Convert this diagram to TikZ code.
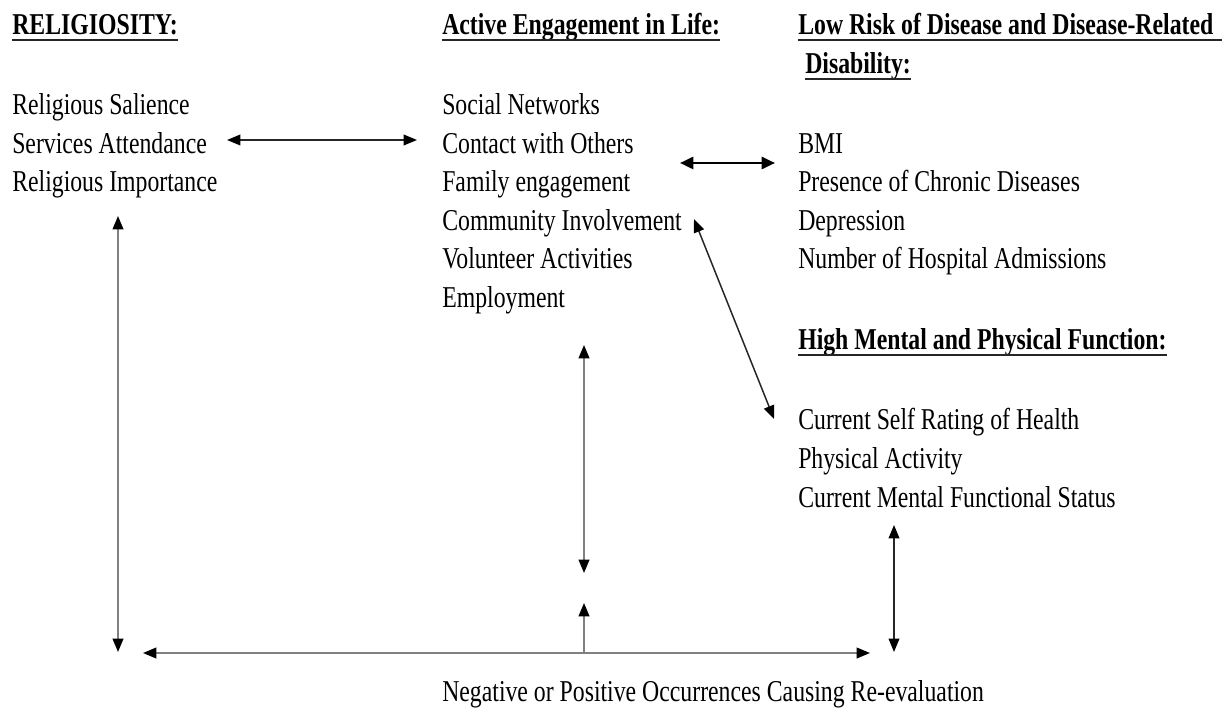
\documentclass[tikz,border=0pt]{standalone}
\usepackage{fontspec}
\setmainfont{Liberation Serif}[FakeStretch=0.785]
\usetikzlibrary{arrows.meta}
\tikzset{
  txt/.style={anchor=base west, inner sep=0pt, font=\fontsize{22.7}{27}\selectfont},
  head/.style={txt, font=\fontsize{22.7}{27}\selectfont\bfseries},
  uline/.style={line width=1.3pt, black!85},
  tipk/.tip={Triangle[length=10pt,width=8pt,color=black,fill=black]},
  tipb/.tip={Triangle[length=10pt,width=9pt,color=black,fill=black]},
  conn/.style={line width=1.1pt, black!85, tipk-tipk},
  connthick/.style={line width=2pt, black, tipb-tipb},
  conngray/.style={line width=1.4pt, black!50, tipk-tipk},
}
\begin{document}
\begin{tikzpicture}[x=0.75pt, y=-0.75pt]
\useasboundingbox (0,0) rectangle (1230,712);
% headings
\node[head] (h1) at (12,35) {RELIGIOSITY:};
\node[head] (h2) at (442,35) {Active Engagement in Life:};
\node[head] (h3) at (798,35) {Low Risk of Disease and Disease-Related};
\node[head] (h3b) at (805,74) {Disability:};
\node[head] (h4) at (798,350) {High Mental and Physical Function:};
\foreach \n in {h1,h2,h3b,h4}{
  \draw[uline] ([yshift=-4pt]\n.base west) -- ([yshift=-4pt]\n.base east);
}
\draw[uline] ([yshift=-4pt]h3.base west) -- ([xshift=6pt,yshift=-4pt]h3.base east);
% column 1
\node[txt] (r1) at (12,115) {Religious Salience};
\node[txt] (r2) at (12,153.5) {Services Attendance};
\node[txt] (r3) at (12,192) {Religious Importance};
% column 2
\node[txt] (e1) at (442,115) {Social Networks};
\node[txt] (e2) at (442,153.5) {Contact with Others};
\node[txt] (e3) at (442,192) {Family engagement};
\node[txt] (e4) at (442,230.5) {Community Involvement};
\node[txt] (e5) at (442,269) {Volunteer Activities};
\node[txt] (e6) at (442,308) {Employment};
% column 3
\node[txt] (d1) at (798,153.5) {BMI};
\node[txt] (d2) at (798,192) {Presence of Chronic Diseases};
\node[txt] (d3) at (798,230.5) {Depression};
\node[txt] (d4) at (798,269) {Number of Hospital Admissions};
\node[txt] (f1) at (798,429) {Current Self Rating of Health};
\node[txt] (f2) at (798,468) {Physical Activity};
\node[txt] (f3) at (798,507) {Current Mental Functional Status};
% bottom
\node[txt] (neg) at (442,701) {Negative or Positive Occurrences Causing Re-evaluation};
% connector end points
\coordinate (a1l) at (227,140);
\coordinate (a1r) at (417,140);
\coordinate (a2l) at (680,163);
\coordinate (a2r) at (775,163);
\coordinate (a3t) at (694,219);
\coordinate (a3b) at (774,419);
\coordinate (lvt) at (118,216);
\coordinate (lvb) at (118,652);
\coordinate (bhl) at (143,653);
\coordinate (bhr) at (870,653);
\coordinate (mvt) at (584,345);
\coordinate (mvb) at (584,573);
\coordinate (mut) at (584,603);
\coordinate (mub) at (584,653);
\coordinate (rvt) at (894,525);
\coordinate (rvb) at (894,652);
% connectors
\draw[conn] (a1l) -- (a1r);
\draw[connthick] (a2l) -- (a2r);
\draw[conn] (a3t) -- (a3b);
\draw[conngray] (lvt) -- (lvb);
\draw[conngray] (bhl) -- (bhr);
\draw[conngray] (mvt) -- (mvb);
\draw[line width=1.4pt, black!50, -tipk] (mub) -- (mut);
\draw[conn] (rvt) -- (rvb);
\end{tikzpicture}
\end{document}
